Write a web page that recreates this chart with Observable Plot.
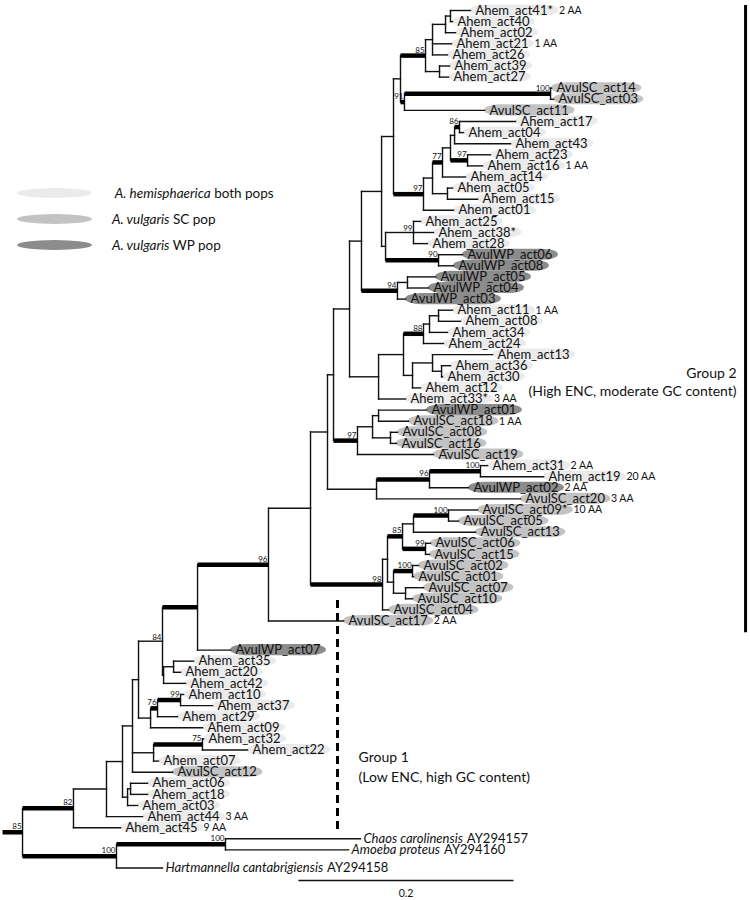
<!DOCTYPE html>
<html>
<head>
<meta charset="utf-8">
<script src="https://cdn.jsdelivr.net/npm/d3@7"></script>
<script src="https://cdn.jsdelivr.net/npm/@observablehq/plot@0.6"></script>
<style>
  html,body{margin:0;padding:0;background:#fff;}
  #wrap{position:relative;width:750px;height:900px;font-family:Lato,"Open Sans",sans-serif;color:#111;}
  #wrap svg{position:absolute;left:0;top:0;}
  .leg-swatch{position:absolute;left:17px;width:75px;height:10px;border-radius:50%;}
  .leg-text{position:absolute;left:112px;white-space:pre;font-size:13.5px;line-height:16px;}
</style>
</head>
<body>
<div id="wrap"></div>
<script>
// ---------------- DATA ----------------
// Leaves, top to bottom
const leafName = ["Ahem_act41*","Ahem_act40","Ahem_act02","Ahem_act21","Ahem_act26","Ahem_act39","Ahem_act27","AvulSC_act14","AvulSC_act03","AvulSC_act11",
"Ahem_act17","Ahem_act04","Ahem_act43","Ahem_act23","Ahem_act16","Ahem_act14","Ahem_act05","Ahem_act15","Ahem_act01","Ahem_act25",
"Ahem_act38*","Ahem_act28","AvulWP_act06","AvulWP_act08","AvulWP_act05","AvulWP_act04","AvulWP_act03","Ahem_act11","Ahem_act08","Ahem_act34",
"Ahem_act24","Ahem_act13","Ahem_act36","Ahem_act30","Ahem_act12","Ahem_act33*","AvulWP_act01","AvulSC_act18","AvulSC_act08","AvulSC_act16",
"AvulSC_act19","Ahem_act31","Ahem_act19","AvulWP_act02","AvulSC_act20","AvulSC_act09*","AvulSC_act05","AvulSC_act13","AvulSC_act06","AvulSC_act15",
"AvulSC_act02","AvulSC_act01","AvulSC_act07","AvulSC_act10","AvulSC_act04","AvulSC_act17","AvulWP_act07","Ahem_act35","Ahem_act20","Ahem_act42",
"Ahem_act10","Ahem_act37","Ahem_act29","Ahem_act09","Ahem_act32","Ahem_act22","Ahem_act07","AvulSC_act12","Ahem_act06","Ahem_act18",
"Ahem_act03","Ahem_act44","Ahem_act45","Chaos carolinensis","Amoeba proteus","Hartmannella cantabrigiensis"];

const leafParent = ["n1","n1","n2","n4","n4","n5","n5","n100a","n100a","n91",
"n86","n86","n6","n97b","n97b","n77","n9","n9","n97","n99",
"n99","n99","n90","n90","n94s","n94s","n94","n10","n10","n11",
"n88","n14","n15","n15","n13","AA","n17","n17","n18","n18",
"Z97","X100","X100","W96","V","n100b","n100b","np","n99b","n99b",
"n100c","n100c","n20","n20","K98","I","H","n25","n25","n24",
"R","R","Q","P","U","U","T","D","F","F",
"E","B","A","O1","O1","O"];

// distance from root (substitutions/site)
const leafDist = [0.4167,0.4000,0.4028,0.3991,0.3953,0.3972,0.3963,0.4921,0.4940,0.4298,
0.4586,0.4102,0.4540,0.4353,0.4279,0.4121,0.4000,0.4233,0.4009,0.3702,
0.3823,0.3767,0.4093,0.4009,0.3842,0.3777,0.3563,0.4000,0.4074,0.3953,
0.3916,0.4372,0.3981,0.3907,0.3702,0.3563,0.3758,0.3591,0.3488,0.3479,
0.3823,0.4326,0.4847,0.4149,0.4633,0.4233,0.4056,0.4214,0.3795,0.3786,
0.3684,0.3637,0.3730,0.3628,0.3405,0.2986,0.1935,0.1591,0.1470,0.1516,
0.1498,0.1767,0.1442,0.1674,0.1684,0.2093,0.1265,0.1395,0.1163,0.1163,
0.1070,0.1116,0.0912,0.3144,0.3033,0.1302];

// amino-acid difference notes
const aaNotes = [["Ahem_act41*","2 AA"],["Ahem_act21","1 AA"],["Ahem_act16","1 AA"],["Ahem_act11","1 AA"],
["Ahem_act33*","3 AA"],["AvulSC_act18","1 AA"],["Ahem_act31","2 AA"],["Ahem_act19","20 AA"],
["AvulWP_act02","2 AA"],["AvulSC_act20","3 AA"],["AvulSC_act09*","10 AA"],["AvulSC_act17","2 AA"],
["Ahem_act44","3 AA"],["Ahem_act45","9 AA"]];

// outgroup accessions
const accessions = [["Chaos carolinensis","AY294157"],["Amoeba proteus","AY294160"],["Hartmannella cantabrigiensis","AY294158"]];

// Internal nodes
const nodeName   = ["root","A","O","O1","B","C","D","E","F","N","G","H","I","J","L","M","Y","CC","nc","nb","na","n85t","n4","n2","n1","n5","n91","n100a","n97","n8","n77","n7","n6","n86","n97b","n9","BB","n99","n90","n94","n94s","AA","n12","n88","n11","n10","n13","n14","n15","Z97","n16","n17","n18","V","W96","X100","K98","n23","n85b","np","n100b","n99b","n21","n100c","n20","n24","n25","P","Q","R","T","U"];
const nodeParent = [null,"root","root","O","A","B","C","C","E","D","N","G","H","I","J","L","M","Y","CC","nc","nb","na","n85t","n4","n2","n85t","na","n91","nb","n97","n8","n77","n7","n6","n7","n8","nc","BB","BB","CC","n94","Y","AA","n12","n88","n11","n12","n13","n14","M","Z97","n16","n16","L","V","W96","J","K98","n23","n85b","np","n85b","n23","n21","n21","G","n24","N","P","Q","D","T"];
const nodeDist   = [0,0.0474,0.0874,0.1888,0.0781,0.0930,0.1023,0.0977,0.1005,0.1079,0.1302,0.1628,0.2288,0.2679,0.2837,0.2893,0.3042,0.3153,0.3340,0.3451,0.3516,0.3749,0.3814,0.3935,0.3981,0.3879,0.3553,0.4912,0.3730,0.3814,0.3907,0.3981,0.4019,0.4065,0.4140,0.3953,0.3377,0.3637,0.3870,0.3488,0.3581,0.3312,0.3544,0.3730,0.3786,0.3870,0.3628,0.3814,0.3898,0.3116,0.3256,0.3312,0.3423,0.3293,0.3786,0.4260,0.3349,0.3395,0.3535,0.3637,0.3963,0.3749,0.3451,0.3628,0.3563,0.1312,0.1405,0.1191,0.1256,0.1470,0.1219,0.1674];
const nodeSupport= [85,82,100,100,null,null,null,null,null,null,84,null,96,null,null,null,null,null,null,null,null,85,null,null,null,null,91,100,97,null,77,null,null,86,97,null,null,99,90,94,null,null,null,88,null,null,null,null,null,97,null,null,null,null,96,100,98,null,85,null,100,99,null,100,null,null,null,null,76,99,null,75];
const nodeBold   = [1,1,1,1,0,0,0,0,0,0,0,1,1,0,0,0,0,0,0,0,0,1,0,0,0,0,1,1,1,0,1,0,0,1,1,0,0,0,1,1,0,0,0,1,0,0,0,0,0,1,0,0,0,0,1,1,1,0,1,0,1,1,0,1,0,0,0,0,1,1,0,1];

// Legend and group annotations
const legendSpecies = [" A. hemisphaerica","A. vulgaris","A. vulgaris"];
const legendRest    = [" both pops"," SC pop"," WP pop"];
const legendPop     = ["H","S","W"];
const groupTitle = ["Group 2","Group 1"];
const groupNote  = ["(High ENC, moderate GC content)","(Low ENC, high GC content)"];
const scaleBarLength = 0.2;
const scaleBarLabel = "0.2";

// ---------------- LAYOUT ----------------
const W = 750, H = 900;
const xDomain = [-0.0205, 0.6772];
const yDomain = [-0.901, 80.18];
const pxPerX = W / (xDomain[1] - xDomain[0]);
const leafGapAt = [56, 75], leafGapSize = [1.62, 0.63];
const rootStub = 0.0186;
const popColor = {H: "#ebebeb", S: "#c3c3c3", W: "#8c8c8c"};
const FONT = "Lato";
const LABEL_SIZE = 13, OUT_SIZE = 13, NOTE_SIZE = 10.5, SUP_SIZE = 8, LABEL_DX = 5;

const ctx = document.createElement("canvas").getContext("2d");
function tw(s, size, style = "normal") { ctx.font = `${style} ${size}px ${FONT}`; return ctx.measureText(s).width; }

const nodes = new Map();
nodeName.forEach((n, i) => nodes.set(n, {name: n, parent: nodeParent[i], dist: nodeDist[i], support: nodeSupport[i], bold: !!nodeBold[i], children: [], leaf: false}));
const leaves = leafName.map((name, i) => {
  const g = leafGapAt.reduce((s, at, j) => s + (i >= at ? leafGapSize[j] : 0), 0);
  const pop = name.startsWith("AvulSC") ? "S" : name.startsWith("AvulWP") ? "W" : name.startsWith("Ahem") ? "H" : "O";
  return {name, parent: leafParent[i], dist: leafDist[i], y: i + g, pop, leaf: true};
});
nodes.forEach(n => { if (n.parent) nodes.get(n.parent).children.push(n); });
leaves.forEach(l => nodes.get(l.parent).children.push(l));
function setY(n) {
  if (n.leaf) return n.y;
  const ys = n.children.map(setY);
  n.yMin = Math.min(...ys); n.yMax = Math.max(...ys); n.y = (n.yMin + n.yMax) / 2;
  return n.y;
}
const root = nodes.get("root");
setY(root);

const hSeg = [];
nodes.forEach(n => { if (n.parent) { const p = nodes.get(n.parent); hSeg.push({x1: p.dist, x2: n.dist, y: n.y, bold: n.bold}); } });
hSeg.push({x1: root.dist - rootStub, x2: root.dist, y: root.y, bold: true});
leaves.forEach(l => { const p = nodes.get(l.parent); hSeg.push({x1: p.dist, x2: l.dist, y: l.y, bold: false}); });
const vSeg = [...nodes.values()].map(n => ({x: n.dist, y1: n.yMin, y2: n.yMax}));

const sup = [...nodes.values()].filter(n => n.support != null).map(n => ({x: n.dist, y: n.y, t: String(n.support), bold: n.bold}));

const noteMap = new Map(aaNotes);
const accMap = new Map(accessions);
const labelRows = leaves.filter(l => l.pop !== "O").map(l => {
  const w = tw(l.name, LABEL_SIZE);
  return {...l, x2: l.dist + (LABEL_DX + w + 6) / pxPerX, noteX: l.dist + (LABEL_DX + w + 6) / pxPerX, note: noteMap.get(l.name)};
});
const noteRows = labelRows.filter(d => d.note);
const outRows = leaves.filter(l => l.pop === "O").map(l => {
  const w = tw(l.name, OUT_SIZE, "italic");
  return {...l, accX: l.dist + (3 + w + 4) / pxPerX, acc: accMap.get(l.name)};
});

// annotation geometry (data units)
const brackets = [
  {x: 0.6726, y1: -0.45, y2: 56.05, dash: null},
  {x: 0.2930, y1: 53.15, y2: 73.8, dash: "8,5"}
];
const groupText = [
  {x: 0.6642, y: 32.7, t: groupTitle[0], anchor: "end"},
  {x: 0.6642, y: 34.3, t: groupNote[0], anchor: "end"},
  {x: 0.3126, y: 67.3, t: groupTitle[1], anchor: "start"},
  {x: 0.3126, y: 69.1, t: groupNote[1], anchor: "start"}
];
const scaleBar = [{x1: 0.2567, x2: 0.2567 + scaleBarLength, y: 78.38}];

const marks = [];
for (const p of ["H", "S", "W"]) {
  marks.push(Plot.rect(labelRows.filter(d => d.pop === p), {
    x1: "dist", x2: "x2", y1: d => d.y - 0.5, y2: d => d.y + 0.5, fill: popColor[p], rx: 16
  }));
}
marks.push(
  Plot.link(vSeg, {x1: "x", x2: "x", y1: "y1", y2: "y2", stroke: "#111", strokeWidth: 1.4, strokeLinecap: "square"}),
  Plot.link(hSeg.filter(d => !d.bold), {x1: "x1", x2: "x2", y1: "y", y2: "y", stroke: "#111", strokeWidth: 1.4, strokeLinecap: "square"}),
  Plot.link(hSeg.filter(d => d.bold), {x1: "x1", x2: "x2", y1: "y", y2: "y", stroke: "#000", strokeWidth: 4.5, strokeLinecap: "butt"}),
  Plot.text(sup.filter(d => !d.bold), {x: "x", y: "y", text: "t", textAnchor: "end", lineAnchor: "bottom", dx: -1, dy: -1.5, fontSize: SUP_SIZE, fill: "#111"}),
  Plot.text(sup.filter(d => d.bold), {x: "x", y: "y", text: "t", textAnchor: "end", lineAnchor: "bottom", dx: -1, dy: -3, fontSize: SUP_SIZE, fill: "#111"}),
  Plot.text(labelRows, {x: "dist", y: "y", text: "name", textAnchor: "start", dx: LABEL_DX, fontSize: LABEL_SIZE, fill: "#111"}),
  Plot.text(noteRows, {x: "noteX", y: "y", text: "note", textAnchor: "start", fontSize: NOTE_SIZE, fill: "#111"}),
  Plot.text(outRows, {x: "dist", y: "y", text: "name", textAnchor: "start", dx: 3, fontSize: OUT_SIZE, fontStyle: "italic", fill: "#111"}),
  Plot.text(outRows, {x: "accX", y: "y", text: "acc", textAnchor: "start", fontSize: OUT_SIZE, fill: "#111"}),
  Plot.ruleX(brackets.filter(d => !d.dash), {x: "x", y1: "y1", y2: "y2", stroke: "#000", strokeWidth: 3}),
  Plot.ruleX(brackets.filter(d => d.dash), {x: "x", y1: "y1", y2: "y2", stroke: "#000", strokeWidth: 3, strokeDasharray: "8,5"}),
  Plot.text(groupText.filter(d => d.anchor === "end"), {x: "x", y: "y", text: "t", textAnchor: "end", fontSize: 14, fill: "#111"}),
  Plot.text(groupText.filter(d => d.anchor === "start"), {x: "x", y: "y", text: "t", textAnchor: "start", fontSize: 14, fill: "#111"}),
  Plot.link(scaleBar, {x1: "x1", x2: "x2", y1: "y", y2: "y", stroke: "#111", strokeWidth: 1.4}),
  Plot.text(scaleBar, {x: d => (d.x1 + d.x2) / 2, y: d => d.y + 1.2, text: () => scaleBarLabel, fontSize: 10.5, fill: "#111"})
);

const chart = Plot.plot({
  width: W, height: H, margin: 0,
  style: {fontFamily: FONT, background: "#fff", overflow: "visible"},
  x: {type: "linear", domain: xDomain, range: [0, W], axis: null},
  y: {type: "linear", domain: yDomain, range: [0, H], axis: null},
  marks
});
const wrap = document.getElementById("wrap");
wrap.appendChild(chart);

// legend overlay
const legendTop = 193, legendStep = 26;
legendPop.forEach((p, i) => {
  const cy = legendTop + i * legendStep;
  const sw = document.createElement("div");
  sw.className = "leg-swatch"; sw.style.top = (cy - 5) + "px"; sw.style.background = popColor[p];
  wrap.appendChild(sw);
  const tx = document.createElement("div");
  tx.className = "leg-text"; tx.style.top = (cy - 8) + "px";
  const it = document.createElement("i"); it.textContent = legendSpecies[i];
  tx.appendChild(it); tx.appendChild(document.createTextNode(legendRest[i]));
  wrap.appendChild(tx);
});
</script>
</body>
</html>
